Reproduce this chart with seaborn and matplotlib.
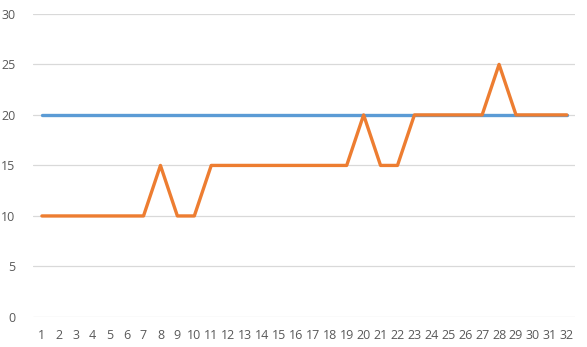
import matplotlib
matplotlib.use("Agg")
import matplotlib.pyplot as plt
import seaborn as sns
import pandas as pd

days = list(range(1, 33))
target = [20] * 32
actual = [10, 10, 10, 10, 10, 10, 10, 15, 10, 10,
          15, 15, 15, 15, 15, 15, 15, 15, 15, 20,
          15, 15, 20, 20, 20, 20, 20, 25, 20, 20,
          20, 20]
y_ticks = [0, 5, 10, 15, 20, 25, 30]

df = pd.DataFrame({
    "day": days * 2,
    "value": target + actual,
    "series": ["target"] * 32 + ["actual"] * 32,
})

sns.set_theme(style="white")
plt.rcParams['font.family'] = ['Open Sans', 'DejaVu Sans']

fig = plt.figure(figsize=(5.87, 3.47), dpi=100)
ax = fig.add_axes([0.057, 0.0865, 0.923, 0.8735])

sns.lineplot(data=df, x="day", y="value", hue="series",
             palette={"target": "#5B9BD5", "actual": "#ED7D31"},
             linewidth=2.4, legend=False, ax=ax, sort=False)

ax.set_xlim(0.5, 32.5)
ax.set_ylim(0, 30)
ax.set_yticks(y_ticks)
ax.set_xticks(days)
ax.set_xticklabels([str(d) for d in days])
ax.grid(axis="y", color="#D9D9D9", linewidth=0.9)
ax.set_axisbelow(True)
for s in ax.spines.values():
    s.set_visible(False)
ax.tick_params(axis="both", length=0, labelsize=9, colors="#595959")
ax.tick_params(axis="y", pad=13)
ax.tick_params(axis="x", pad=9)
ax.set_xlabel("")
ax.set_ylabel("")

fig.savefig("out.png", dpi=100)
